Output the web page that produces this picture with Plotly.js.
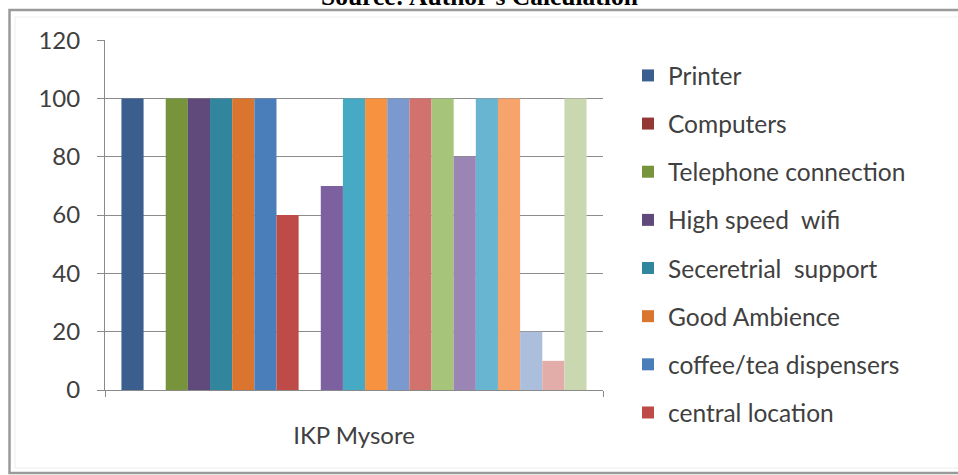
<!DOCTYPE html>
<html>
<head>
<meta charset="utf-8">
<script src="https://cdn.plot.ly/plotly-3.0.1.min.js"></script>
<style>html,body{margin:0;padding:0;background:#fff;}#chart{width:958px;height:475px;}</style>
</head>
<body>
<div id="chart"></div>
<script>
// ---- data ----
const categories = ["IKP Mysore"];
const seriesNames = [
  "Printer", "Computers", "Telephone connection", "High speed  wifi",
  "Seceretrial  support", "Good Ambience", "coffee/tea dispensers", "central location",
  "Series 9", "Series 10", "Series 11", "Series 12", "Series 13", "Series 14",
  "Series 15", "Series 16", "Series 17", "Series 18", "Series 19", "Series 20", "Series 21"
];
const seriesValues = [100, 0, 100, 100, 100, 100, 100, 60, 0, 70, 100, 100, 100, 100, 100, 80, 100, 100, 20, 10, 100];
const legendVisibleCount = 8;
const yTicks = [0, 20, 40, 60, 80, 100, 120];
const sourceNote = "Source: Author's Calculation";

// ---- styles ----
const colors = [
  "#3A5F8E", "#953735", "#77933C", "#604A7B", "#31859C", "#D9752E", "#4A7EBB", "#BE4B48",
  "#98B954", "#7D60A0", "#46AAC5", "#F69240", "#7A9ACF", "#D2726F", "#A6C47A", "#9A85B5",
  "#67B5D1", "#F7A46C", "#ABBEDB", "#E2ACA9", "#C9D8B1"
];
const FONT = "Lato, 'Open Sans', sans-serif";
const FS = 24;

const traces = seriesNames.map((name, i) => ({
  type: "bar",
  name: name,
  x: categories,
  y: [seriesValues[i]],
  marker: {color: colors[i], line: {width: 0}},
  showlegend: i < legendVisibleCount,
  legendgroup: "g" + i,
  hoverinfo: "name+y"
}));

const L = 105, R = 603, T = 40, B = 390;
const px2x = p => (p - L) / (R - L);
const px2y = p => (B - p) / (B - T);

const layout = {
  width: 958, height: 475,
  margin: {l: L, r: 958 - R, t: T, b: 475 - B},
  paper_bgcolor: "#ffffff",
  plot_bgcolor: "#ffffff",
  barmode: "group",
  bargap: 0.066,
  bargroupgap: 0,
  font: {family: FONT, color: "#404040", size: FS},
  xaxis: {
    type: "category",
    range: [-0.5, 0.5],
    showline: true, linecolor: "#8a8a8a", linewidth: 1,
    ticks: "outside", ticklen: 6, tickcolor: "#8a8a8a",
    tickson: "boundaries",
    showgrid: false, zeroline: false,
    tickfont: {family: FONT, size: FS, color: "#404040"},
    ticklabelstandoff: 24,
    fixedrange: true
  },
  yaxis: {
    range: [0, 120.05],
    tickvals: yTicks,
    showline: true, linecolor: "#8a8a8a", linewidth: 1,
    ticks: "outside", ticklen: 7, tickcolor: "#8a8a8a",
    showgrid: true, gridcolor: "#8c8c8c", gridwidth: 1,
    zeroline: false,
    tickfont: {family: FONT, size: FS, color: "#404040"},
    ticklabelstandoff: 12,
    fixedrange: true
  },
  legend: {
    x: px2x(628), xanchor: "left",
    y: px2y(53), yanchor: "top",
    traceorder: "grouped",
    tracegroupgap: 13.3,
    maxheight: 470,
    font: {family: FONT, size: 24.5, color: "#404040"},
    bgcolor: "rgba(0,0,0,0)",
    borderwidth: 0
  },
  shapes: [
    {type: "rect", xref: "paper", yref: "paper",
     x0: px2x(9.5), x1: px2x(1010), y0: px2y(10), y1: px2y(473),
     line: {color: "#9a9a9a", width: 2.5}, fillcolor: "rgba(0,0,0,0)", layer: "below"},
    {type: "rect", xref: "paper", yref: "paper",
     x0: px2x(15), x1: px2x(1010), y0: px2y(17), y1: px2y(468),
     line: {color: "#eeeeee", width: 1}, fillcolor: "rgba(0,0,0,0)", layer: "below"}
  ],
  annotations: [
    {text: "<b>" + sourceNote + "</b>", xref: "paper", yref: "paper",
     x: px2x(479), y: px2y(13), xanchor: "center", yanchor: "bottom",
     showarrow: false,
     font: {family: "'Liberation Serif', 'Times New Roman', serif", size: 25.5, color: "#000"}}
  ]
};

Plotly.newPlot("chart", traces, layout, {displayModeBar: false, staticPlot: true});
</script>
</body>
</html>
